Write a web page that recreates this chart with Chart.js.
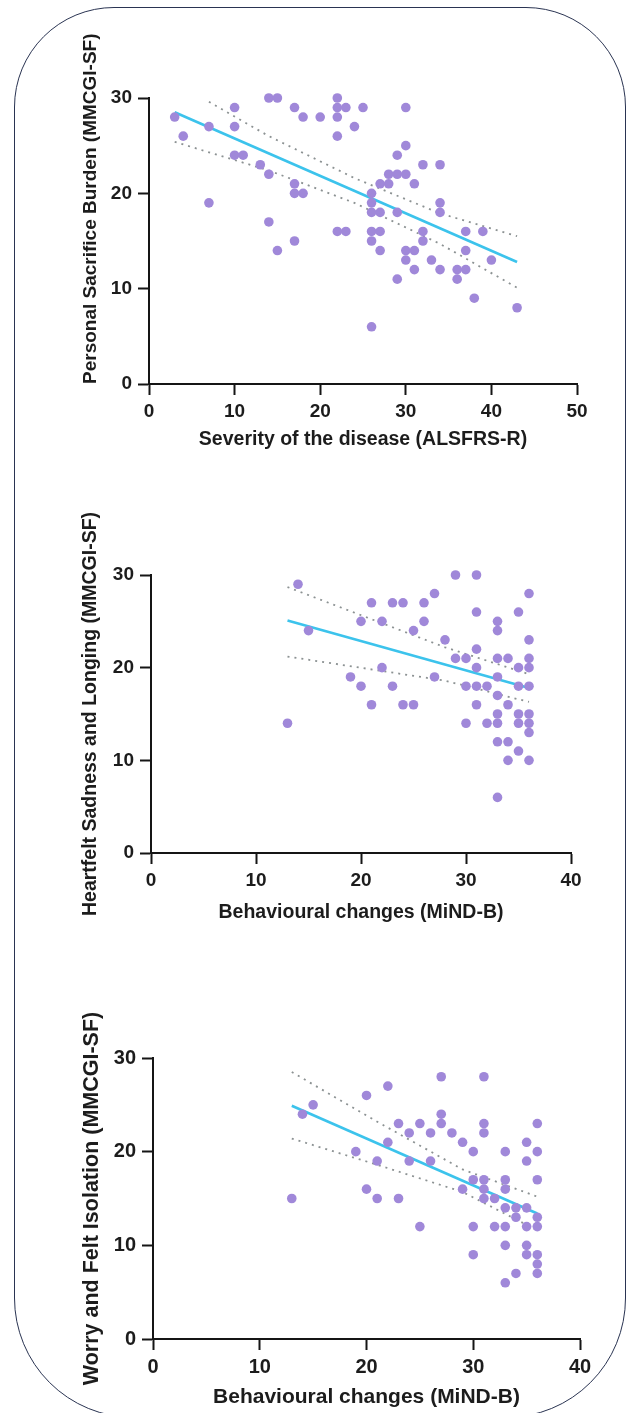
<!DOCTYPE html>
<html>
<head>
<meta charset="utf-8">
<title>Caregiver burden correlations</title>
<script src="https://cdn.jsdelivr.net/npm/chart.js@4.4.1/dist/chart.umd.min.js"></script>
<style>
  html, body { margin: 0; padding: 0; background: #fff; }
  body { width: 629px; height: 1413px; position: relative; overflow: hidden; }
  .frame {
    position: absolute; left: 14px; top: 7px; width: 612px; height: 1411px;
    border: 1.5px solid #2a3452; border-radius: 100px 100px 120px 120px; box-sizing: border-box;
  }
  canvas { position: absolute; left: 0; }
</style>
</head>
<body>
<div class="frame"></div>
<canvas id="chart1" width="629" height="464" style="top:0px"></canvas>
<canvas id="chart2" width="629" height="463" style="top:470px"></canvas>
<canvas id="chart3" width="629" height="469" style="top:950px"></canvas>

<script>
// --- Chart 1: severity (ALSFRS-R) vs personal sacrifice burden
const severityX = [3, 4, 7, 7, 10, 10, 10, 11, 13, 14, 14, 15, 14, 15, 17, 17, 18, 17, 17, 18,
  20, 22, 22, 22, 23, 25, 24, 22, 30, 30, 29, 32, 34, 28, 29, 30, 27, 28, 31, 26,
  26, 26, 27, 29, 34, 34, 22, 23, 26, 27, 26, 32, 32, 37, 39, 27, 30, 31, 30, 33,
  37, 40, 31, 34, 36, 37, 36, 29, 38, 43, 26];
const sacrificeY = [28, 26, 27, 19, 29, 27, 24, 24, 23, 22, 30, 30, 17, 14, 15, 29, 28, 21, 20, 20,
  28, 30, 29, 28, 29, 29, 27, 26, 29, 25, 24, 23, 23, 22, 22, 22, 21, 21, 21, 20,
  19, 18, 18, 18, 19, 18, 16, 16, 16, 16, 15, 16, 15, 16, 16, 14, 14, 14, 13, 13,
  14, 13, 12, 12, 12, 12, 11, 11, 9, 8, 6];
const sacrificeFitX = [3, 43];
const sacrificeFitY = [28.5, 12.8];
const sacrificeUpperX = [7, 14, 24, 34, 43];
const sacrificeUpperY = [29.6, 26.0, 21.6, 17.9, 15.5];
const sacrificeLowerX = [3, 14, 24, 34, 43];
const sacrificeLowerY = [25.4, 22.4, 19.0, 14.7, 10.1];

// --- Chart 2: behavioural changes (MiND-B) vs heartfelt sadness
const behaviourX2 = [14, 15, 13, 29, 31, 36, 27, 21, 23, 24, 26, 31, 35, 20, 22, 26, 33, 33, 25, 28,
  36, 31, 29, 30, 33, 34, 36, 35, 36, 22, 31, 19, 27, 33, 20, 23, 30, 31, 32, 35,
  36, 33, 21, 24, 25, 31, 34, 33, 35, 36, 30, 32, 33, 35, 36, 36, 33, 34, 35, 34,
  36, 33];
const sadnessY = [29, 24, 14, 30, 30, 28, 28, 27, 27, 27, 27, 26, 26, 25, 25, 25, 25, 24, 24, 23,
  23, 22, 21, 21, 21, 21, 21, 20, 20, 20, 20, 19, 19, 19, 18, 18, 18, 18, 18, 18,
  18, 17, 16, 16, 16, 16, 16, 15, 15, 15, 14, 14, 14, 14, 14, 13, 12, 12, 11, 10,
  10, 6];
const sadnessFitX = [13, 36];
const sadnessFitY = [25.1, 17.8];
const sadnessBandX = [13, 28, 36];
const sadnessUpperY = [28.7, 22.2, 19.3];
const sadnessLowerY = [21.2, 18.6, 16.3];

// --- Chart 3: behavioural changes (MiND-B) vs worry and felt isolation
const behaviourX3 = [15, 14, 13, 27, 31, 22, 20, 27, 27, 31, 31, 36, 23, 25, 24, 26, 28, 29, 35, 22,
  30, 33, 36, 19, 35, 21, 24, 26, 30, 31, 33, 36, 31, 33, 29, 20, 21, 23, 31, 32,
  33, 34, 35, 34, 36, 25, 30, 32, 33, 35, 36, 33, 35, 30, 35, 36, 36, 34, 36, 33];
const worryY = [25, 24, 15, 28, 28, 27, 26, 24, 23, 23, 22, 23, 23, 23, 22, 22, 22, 21, 21, 21,
  20, 20, 20, 20, 19, 19, 19, 19, 17, 17, 17, 17, 16, 16, 16, 16, 15, 15, 15, 15,
  14, 14, 14, 13, 13, 12, 12, 12, 12, 12, 12, 10, 10, 9, 9, 9, 8, 7, 7, 6];
const worryFitX = [13, 36];
const worryFitY = [24.9, 13.4];
const worryBandX = [13, 21, 29, 36];
const worryUpperY = [28.5, 23.2, 18.1, 15.2];
const worryLowerY = [21.4, 18.6, 15.7, 11.6];

const yTicks = [0, 10, 20, 30];

Chart.defaults.font.family = "'Liberation Sans', Arial, sans-serif";
Chart.defaults.font.weight = 'bold';
Chart.defaults.color = '#1c1c1c';

function toPoints(xs, ys) {
  return xs.map((x, i) => ({ x: x, y: ys[i] }));
}

function makeChart(id, cfg) {
  const axisColor = '#151515';
  return new Chart(document.getElementById(id), {
    type: 'scatter',
    data: {
      datasets: [
        {
          data: toPoints(cfg.x, cfg.y),
          pointRadius: 4.8,
          pointBackgroundColor: '#a088d9',
          pointBorderWidth: 0,
          clip: false,
          order: 1
        },
        {
          data: toPoints(cfg.fitX, cfg.fitY),
          showLine: true,
          borderColor: '#3cc3ec',
          borderWidth: 2.6,
          pointRadius: 0,
          order: 2
        },
        {
          data: toPoints(cfg.upX, cfg.upY),
          showLine: true,
          borderColor: '#8c9293',
          borderWidth: 1.8,
          borderDash: [2, 5],
          pointRadius: 0,
          order: 3
        },
        {
          data: toPoints(cfg.lowX, cfg.lowY),
          showLine: true,
          borderColor: '#8c9293',
          borderWidth: 1.8,
          borderDash: [2, 5],
          pointRadius: 0,
          order: 3
        }
      ]
    },
    options: {
      responsive: false,
      animation: false,
      events: [],
      layout: { padding: { top: cfg.padTop, right: cfg.padRight, left: 0, bottom: 0 } },
      plugins: { legend: { display: false }, tooltip: { enabled: false } },
      scales: {
        x: {
          type: 'linear',
          min: 0,
          max: cfg.xMax,
          afterFit: (s) => { s.height = 80; },
          afterBuildTicks: (s) => { s.ticks = cfg.xTicks.map(v => ({ value: v })); },
          border: { display: true, color: axisColor, width: 2 },
          grid: { display: true, drawOnChartArea: false, drawTicks: true, tickLength: 11, tickWidth: 2, tickColor: axisColor },
          ticks: { padding: 5, font: { size: cfg.tickSize, weight: 'bold' }, color: '#1c1c1c' },
          title: { display: true, text: cfg.xTitle, font: { size: cfg.titleSize, weight: 'bold' }, color: '#1c1c1c', padding: { top: 0, bottom: cfg.xTitlePad } }
        },
        y: {
          type: 'linear',
          min: 0,
          max: 30,
          afterFit: (s) => { s.width = cfg.yWidth; },
          afterBuildTicks: (s) => { s.ticks = yTicks.map(v => ({ value: v })); },
          border: { display: true, color: axisColor, width: 2 },
          grid: { display: true, drawOnChartArea: false, drawTicks: true, tickLength: 11, tickWidth: 2, tickColor: axisColor },
          ticks: { padding: 6, font: { size: cfg.tickSize, weight: 'bold' }, color: '#1c1c1c' },
          title: { display: true, text: cfg.yTitle, align: cfg.yTitleAlign, font: { size: cfg.yTitleSize, weight: 'bold' }, color: '#1c1c1c', padding: { top: cfg.yTitlePad, bottom: 0 } }
        }
      }
    }
  });
}

makeChart('chart1', {
  x: severityX, y: sacrificeY,
  fitX: sacrificeFitX, fitY: sacrificeFitY,
  upX: sacrificeUpperX, upY: sacrificeUpperY,
  lowX: sacrificeLowerX, lowY: sacrificeLowerY,
  xMax: 50, xTicks: [0, 10, 20, 30, 40, 50],
  xTitle: 'Severity of the disease (ALSFRS-R)',
  yTitle: 'Personal Sacrifice Burden (MMCGI-SF)',
  tickSize: 19, titleSize: 19.5, yTitleSize: 19, yTitleAlign: 'start',
  padTop: 98, padRight: 52, yWidth: 149, xTitlePad: 13, yTitlePad: 79
});

makeChart('chart2', {
  x: behaviourX2, y: sadnessY,
  fitX: sadnessFitX, fitY: sadnessFitY,
  upX: sadnessBandX, upY: sadnessUpperY,
  lowX: sadnessBandX, lowY: sadnessLowerY,
  xMax: 40, xTicks: [0, 10, 20, 30, 40],
  xTitle: 'Behavioural changes (MiND-B)',
  yTitle: 'Heartfelt Sadness and Longing (MMCGI-SF)',
  tickSize: 19, titleSize: 19.5, yTitleSize: 19.5, yTitleAlign: 'center',
  padTop: 105, padRight: 58, yWidth: 151, xTitlePad: 9, yTitlePad: 79
});

makeChart('chart3', {
  x: behaviourX3, y: worryY,
  fitX: worryFitX, fitY: worryFitY,
  upX: worryBandX, upY: worryUpperY,
  lowX: worryBandX, lowY: worryLowerY,
  xMax: 40, xTicks: [0, 10, 20, 30, 40],
  xTitle: 'Behavioural changes (MiND-B)',
  yTitle: 'Worry and Felt Isolation (MMCGI-SF)',
  tickSize: 20, titleSize: 21, yTitleSize: 21.5, yTitleAlign: 'center',
  padTop: 108, padRight: 49, yWidth: 153, xTitlePad: 9, yTitlePad: 79
});
</script>
</body>
</html>
